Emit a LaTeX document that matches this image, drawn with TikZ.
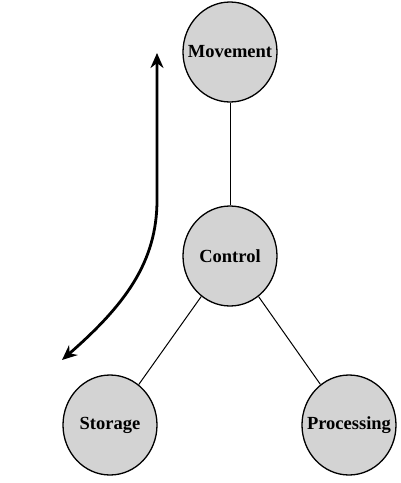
\documentclass[tikz,border=0pt]{standalone}
\usepackage{fontspec}
\setmainfont{Liberation Serif}
\usetikzlibrary{shapes.geometric,arrows.meta}
\definecolor{nodegray}{RGB}{211,211,211}
\newcommand{\unitlabel}[1]{\makebox[0pt][c]{#1}}
\begin{document}
\begin{tikzpicture}[x=1pt,y=-1pt,
  unit/.style={ellipse,draw=black,line width=1.3pt,fill=nodegray,minimum width=94pt,minimum height=100pt,inner sep=0pt,font=\bfseries\fontsize{18.5}{20}\selectfont},
  link/.style={draw=black,line width=1pt},
  flow/.style={draw=black,line width=2.8pt,{Stealth[length=15pt,width=13pt]}-{Stealth[length=15pt,width=13pt]}}]
\useasboundingbox (0,0) rectangle (401,483);
\node[unit] (mov) at (230,52) {\unitlabel{Movement}};
\node[unit] (ctl) at (230,256) {\unitlabel{Control}};
\node[unit] (sto) at (110,425) {\unitlabel{Storage}};
\node[unit] (pro) at (349,425) {\unitlabel{Processing}};
\draw[link] (mov) -- (ctl);
\draw[link] (ctl) -- (sto);
\draw[link] (ctl) -- (pro);
\coordinate (top) at (157,53);
\coordinate (bend) at (157,200);
\coordinate (low) at (62,360);
\draw[flow] (top) -- (bend) .. controls (157,262) and (125,305) .. (low);
\end{tikzpicture}
\end{document}
